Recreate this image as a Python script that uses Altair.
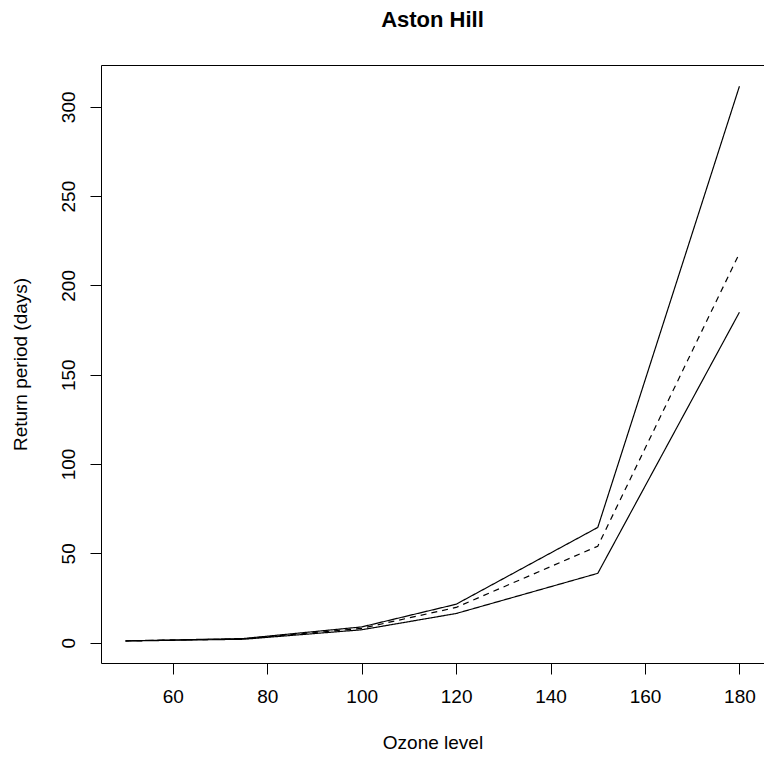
import altair as alt
import pandas as pd

ozone = [50, 75, 100, 120, 150, 180]
upper = [1.0, 2.3, 8.8, 21.5, 64.5, 311.5]
estimate = [1.0, 2.1, 8.0, 19.7, 54.0, 218.0]
lower = [0.9, 1.9, 7.2, 16.3, 38.8, 185.0]
title_text = ["Aston Hill"]

rows = []
for name, vals in [("upper", upper), ("estimate", estimate), ("lower", lower)]:
    for x, v in zip(ozone, vals):
        rows.append({"ozone": x, "period": v, "series": name})
df = pd.DataFrame(rows)
tdf = pd.DataFrame({"label": title_text})

FONT = "Liberation Sans"
W, H = 663, 598

lines = alt.Chart(df).mark_line(color="black", strokeWidth=1.2).encode(
    x=alt.X("ozone:Q",
            scale=alt.Scale(domain=[44.8, 185.2], nice=False, zero=False),
            axis=alt.Axis(values=[60, 80, 100, 120, 140, 160, 180], title="Ozone level",
                          domain=False, grid=False, tickSize=11, tickColor="black",
                          labelPadding=13, titlePadding=27, labelFontSize=19,
                          titleFontSize=19, labelFont=FONT, titleFont=FONT,
                          titleFontWeight="normal", labelColor="black", titleColor="black")),
    y=alt.Y("period:Q",
            scale=alt.Scale(domain=[-11.4, 323.4], nice=False, zero=False),
            axis=alt.Axis(values=[0, 50, 100, 150, 200, 250, 300], title="Return period (days)",
                          domain=False, grid=False, tickSize=11, tickColor="black",
                          labelAngle=270, labelAlign="center", labelBaseline="bottom",
                          labelPadding=12, titlePadding=29, labelFontSize=19,
                          titleFontSize=19, labelFont=FONT, titleFont=FONT,
                          titleFontWeight="normal", labelColor="black", titleColor="black")),
    strokeDash=alt.StrokeDash("series:N",
                              scale=alt.Scale(domain=["upper", "estimate", "lower"],
                                              range=[[1, 0], [6, 5], [1, 0]]),
                              legend=None),
    detail="series:N",
)

title = alt.Chart(tdf).mark_text(
    font=FONT, fontSize=22, fontWeight="bold", color="black",
    align="center", baseline="alphabetic"
).encode(
    text="label:N",
    x=alt.value(W / 2),
    y=alt.value(-38),
)

chart = alt.layer(lines, title).properties(
    width=W,
    height=H,
    autosize=alt.AutoSizeParams(type="none"),
    padding={"left": 93, "top": 57, "right": 0, "bottom": 90},
).configure_view(stroke="black", strokeWidth=1)

chart.save("out.html", embed_options={"renderer": "svg", "actions": False})
